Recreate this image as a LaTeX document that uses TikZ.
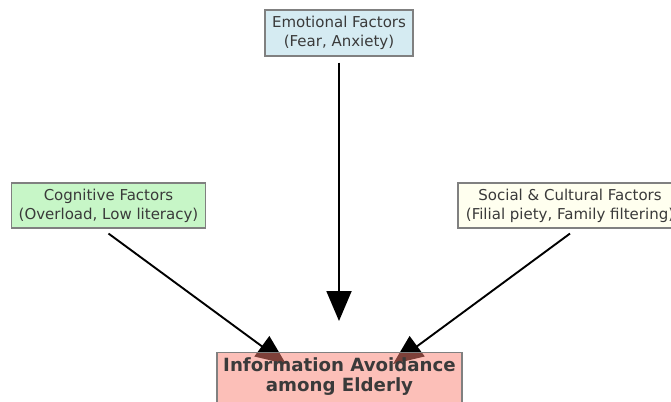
\documentclass[tikz,border=0pt]{standalone}
\usepackage{fontspec}
\setmainfont{DejaVu Sans}
\usetikzlibrary{arrows.meta}
\definecolor{txt}{HTML}{3A3A3A}
\definecolor{edge}{HTML}{808080}
\definecolor{emofill}{HTML}{D5EBF2}
\definecolor{cogfill}{HTML}{C7F6C7}
\definecolor{socfill}{HTML}{FFFFEF}
\definecolor{avfill}{HTML}{FA8072}
\tikzset{
  fbox/.style={draw=edge, line width=1.1pt, text=txt, align=center, inner sep=0pt,
    font=\fontsize{15}{19}\selectfont},
  arr/.style={line width=1.9pt, -{Triangle[length=30pt,width=25pt]}},
}
\begin{document}
\begin{tikzpicture}[x=1pt,y=-1pt]
\useasboundingbox (0,0) rectangle (671,401);
\clip (0,0) rectangle (671,401);
\node[fbox, fill=emofill, minimum width=148pt, minimum height=46pt] (emo) at (339,33) {Emotional Factors\\(Fear, Anxiety)};
\node[fbox, fill=cogfill, minimum width=194pt, minimum height=45pt] (cog) at (108.5,205.5) {Cognitive Factors\\(Overload, Low literacy)};
\node[fbox, fill=socfill, minimum width=224pt, minimum height=45pt] (soc) at (570,205.5) {Social \& Cultural Factors\\(Filial piety, Family filtering)};
\coordinate (ltip) at (286,364);
\coordinate (rtip) at (393,364);
\coordinate (ctip) at (339,321);
\draw[arr] ([yshift=-6pt]emo.south) -- (ctip);
\draw[arr] ([yshift=-5pt]cog.south) -- (ltip);
\draw[arr] ([yshift=-5pt]soc.south) -- (rtip);
\node[fbox, fill=avfill, fill opacity=0.5, minimum width=245pt, minimum height=70pt, anchor=north] (av) at (339.5,352) {};
\node[text=txt, align=center, inner sep=0pt, font=\fontsize{18.2}{20}\selectfont\bfseries] (avtext) at (339.5,377) {Information Avoidance\\among Elderly};
\end{tikzpicture}
\end{document}
